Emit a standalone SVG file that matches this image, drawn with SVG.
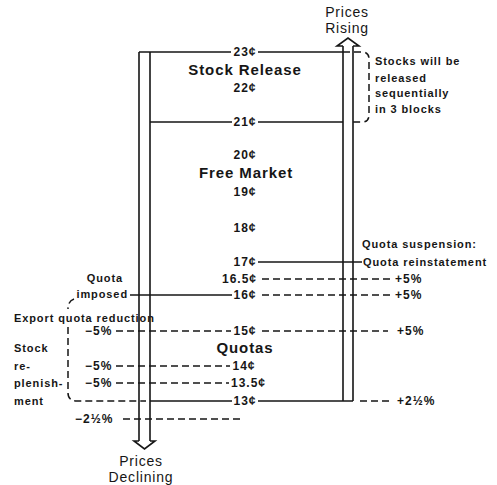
<svg xmlns="http://www.w3.org/2000/svg" width="497" height="485" viewBox="0 0 497 485">
<style>
.ln{stroke:#161616;stroke-width:1.6;fill:none}
.ds{stroke:#161616;stroke-width:1.5;fill:none;stroke-dasharray:7 4}
.ar{stroke:#161616;stroke-width:1.6;fill:#fff;stroke-linejoin:miter}
text{font-family:"Liberation Sans",Arial,sans-serif;fill:#161616}
.b{font-weight:bold;font-size:11px;letter-spacing:0.9px}
.c{font-weight:bold;font-size:12px;letter-spacing:1px}
.h{font-weight:bold;font-size:15px;letter-spacing:0.9px}
.p{font-size:14px;letter-spacing:0.8px}
.m{text-anchor:middle}
.e{text-anchor:end}
</style>
<rect width="497" height="485" fill="#fff"/>
<g id="connectors">
  <path class="ln" d="M139 52H231M258 52H343"/>
  <path class="ds" d="M343 52H362Q369 52 369 59V115Q369 122 362 122H353"/>
  <path class="ln" d="M150 122H232M258 122H343"/>
  <path class="ln" d="M258 262H362"/>
  <path class="ds" d="M262 279H392"/>
  <path class="ln" d="M130 295H232"/>
  <path class="ds" d="M262 295H392"/>
  <path class="ds" d="M116 331H231M262 331H388"/>
  <path class="ds" d="M116 366H230"/>
  <path class="ds" d="M116 383H229"/>
  <path class="ln" d="M150 401H232M258 401H353"/>
  <path class="ds" d="M360 401H392"/>
  <path class="ds" d="M123 419H241"/>
  <path class="ds" d="M74 299Q68 301 68 309"/>
  <path class="ds" d="M68 327V393Q68 401 77 401H146"/>
</g>
<g id="arrow-declining">
  <path class="ln" d="M139 52V441M150 52V441"/>
  <polyline class="ar" points="139,441 134,441 144.5,449 155,441 150,441"/>
</g>
<g id="arrow-rising">
  <path class="ln" d="M343 46V401M353 46V401"/>
  <polyline class="ar" points="343,46 337,46 348,38 359,46 353,46"/>
</g>
<g id="title-rising">
  <text class="p m" x="347" y="17">Prices</text>
  <text class="p m" x="347" y="33">Rising</text>
</g>
<g id="title-declining">
  <text class="p m" x="141" y="466">Prices</text>
  <text class="p m" x="141" y="482">Declining</text>
</g>
<g id="stock-release">
  <text class="c m" x="245" y="56">23¢</text>
  <text class="h m" x="245" y="75">Stock Release</text>
  <text class="c m" x="245" y="92">22¢</text>
  <text class="c m" x="245" y="126">21¢</text>
</g>
<g id="release-note">
  <text class="b" x="375" y="65">Stocks will be</text>
  <text class="b" x="375" y="82">released</text>
  <text class="b" x="375" y="97">sequentially</text>
  <text class="b" x="375" y="113">in 3 blocks</text>
</g>
<g id="free-market">
  <text class="c m" x="245" y="159">20¢</text>
  <text class="h m" x="246" y="178">Free Market</text>
  <text class="c m" x="245" y="196">19¢</text>
  <text class="c m" x="245" y="232">18¢</text>
  <text class="c m" x="245" y="266">17¢</text>
</g>
<g id="quota-suspension">
  <text class="b" x="362" y="248">Quota suspension:</text>
  <text class="b" x="363" y="266">Quota reinstatement</text>
  <text class="c" x="395" y="283">+5%</text>
  <text class="c" x="395" y="299">+5%</text>
  <text class="c" x="397" y="335">+5%</text>
  <text class="c" x="397" y="405">+2½%</text>
</g>
<g id="quota-imposed">
  <text class="b e" x="123" y="282">Quota</text>
  <text class="b e" x="128" y="298">imposed</text>
  <text class="c e" x="257" y="283">16.5¢</text>
  <text class="c m" x="245" y="299">16¢</text>
</g>
<g id="quotas">
  <text class="b" x="14" y="322">Export quota reduction</text>
  <text class="c" x="85" y="335">−5%</text>
  <text class="c m" x="245" y="335">15¢</text>
  <text class="h m" x="245" y="353">Quotas</text>
  <text class="c" x="85" y="370">−5%</text>
  <text class="c m" x="244" y="370">14¢</text>
  <text class="c" x="85" y="387">−5%</text>
  <text class="c" x="231" y="387">13.5¢</text>
  <text class="c m" x="245" y="405">13¢</text>
  <text class="c" x="75" y="423">−2½%</text>
</g>
<g id="stock-replenishment">
  <text class="b" x="14" y="352">Stock</text>
  <text class="b" x="14" y="370">re-</text>
  <text class="b" x="14" y="387">plenish-</text>
  <text class="b" x="14" y="405">ment</text>
</g>
</svg>
